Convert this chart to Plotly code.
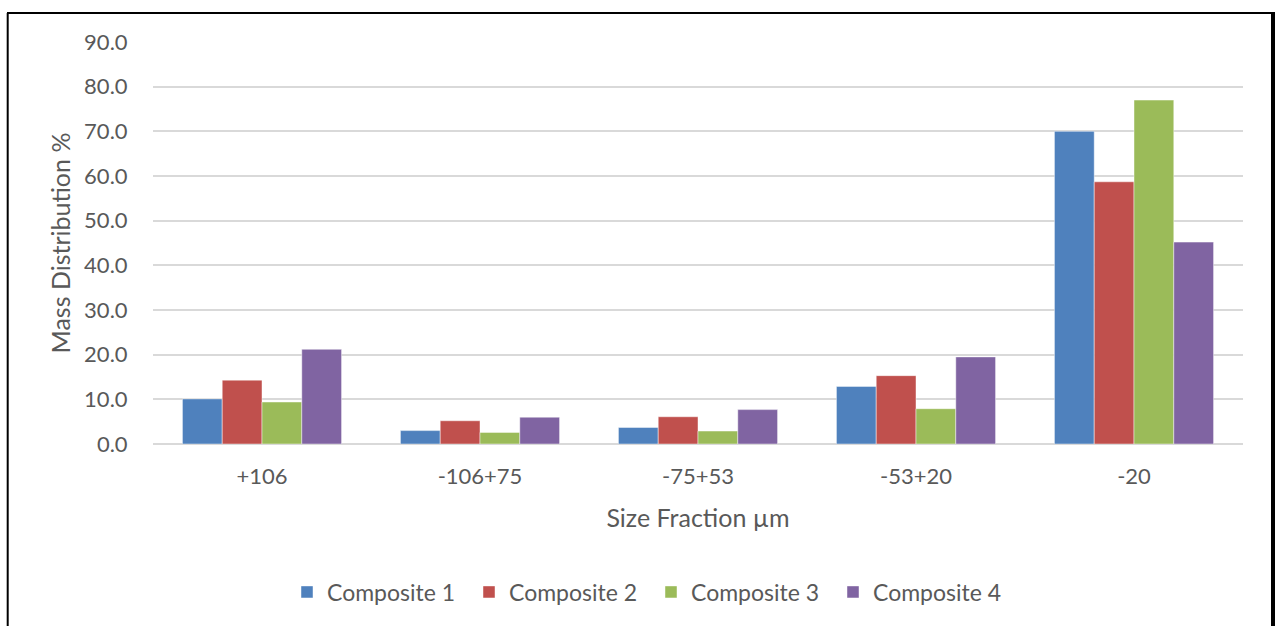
import plotly.graph_objects as go

categories = ["+106", "-106+75", "-75+53", "-53+20", "-20"]
composite_1 = [10.1, 3.0, 3.7, 12.9, 70.0]
composite_2 = [14.3, 5.2, 6.1, 15.3, 58.7]
composite_3 = [9.4, 2.6, 2.9, 7.9, 77.0]
composite_4 = [21.2, 6.0, 7.7, 19.5, 45.2]
series_names = ["Composite 1", "Composite 2", "Composite 3", "Composite 4"]
y_ticks = [0, 10, 20, 30, 40, 50, 60, 70, 80, 90]

colors = ["#4F81BD", "#C0504D", "#9BBB59", "#8064A2"]
FONT = "Lato"
GREY = "#595959"

fig = go.Figure()
for name, vals, col in zip(series_names, [composite_1, composite_2, composite_3, composite_4], colors):
    fig.add_trace(go.Bar(x=categories, y=vals, name=name,
                         marker=dict(color=col, line=dict(color="rgba(255,255,255,0.45)", width=1))))

W, H = 1275, 626
L, T, R, B = 153, 42, 32, 182
pw = W - L - R
ph = H - T - B

def px_x(px):
    return (px - L) / pw

def px_y(py):
    return (T + ph - py) / ph

border = dict(color="black", width=2)
fig.update_layout(
    width=W, height=H,
    margin=dict(l=L, r=R, t=T, b=B),
    paper_bgcolor="white", plot_bgcolor="white",
    barmode="group", bargap=0.27, bargroupgap=0,
    font=dict(family=FONT, color=GREY, size=22),
    showlegend=True,
    legend=dict(orientation="h", x=px_x(287), xanchor="left", y=px_y(592), yanchor="middle",
                font=dict(size=23, color=GREY), traceorder="normal", itemwidth=30,
                entrywidth=137, entrywidthmode="pixels",
                bgcolor="rgba(0,0,0,0)"),
    xaxis=dict(showgrid=False, showline=False, zeroline=False,
               ticks="outside", ticklen=13, tickcolor="rgba(0,0,0,0)",
               tickfont=dict(size=22, color=GREY),
               title=dict(text="Size Fraction µm", font=dict(size=25, color=GREY), standoff=21)),
    yaxis=dict(range=[0, 90], tickvals=y_ticks, ticktext=[f"{v:.1f}" for v in y_ticks],
               showgrid=True, gridcolor="#D9D9D9", gridwidth=2,
               zeroline=True, zerolinecolor="#D9D9D9", zerolinewidth=2,
               showline=False, ticks="outside", ticklen=20, tickcolor="rgba(0,0,0,0)",
               tickfont=dict(size=22, color=GREY),
               title=dict(text="Mass Distribution %", font=dict(size=25, color=GREY), standoff=6)),
    shapes=[
        dict(type="line", xref="paper", yref="paper", x0=px_x(7.7), x1=px_x(7.7),
             y0=px_y(13), y1=px_y(640), line=border),
        dict(type="line", xref="paper", yref="paper", x0=px_x(7), x1=px_x(1275),
             y0=px_y(13), y1=px_y(13), line=border),
        dict(type="line", xref="paper", yref="paper", x0=px_x(1273), x1=px_x(1273),
             y0=px_y(12), y1=px_y(640), line=dict(color="black", width=4)),
    ],
)

fig.write_html("out.html", config={"displayModeBar": False},
               post_script="document.body.style.margin='0px';document.body.style.overflow='hidden';")
